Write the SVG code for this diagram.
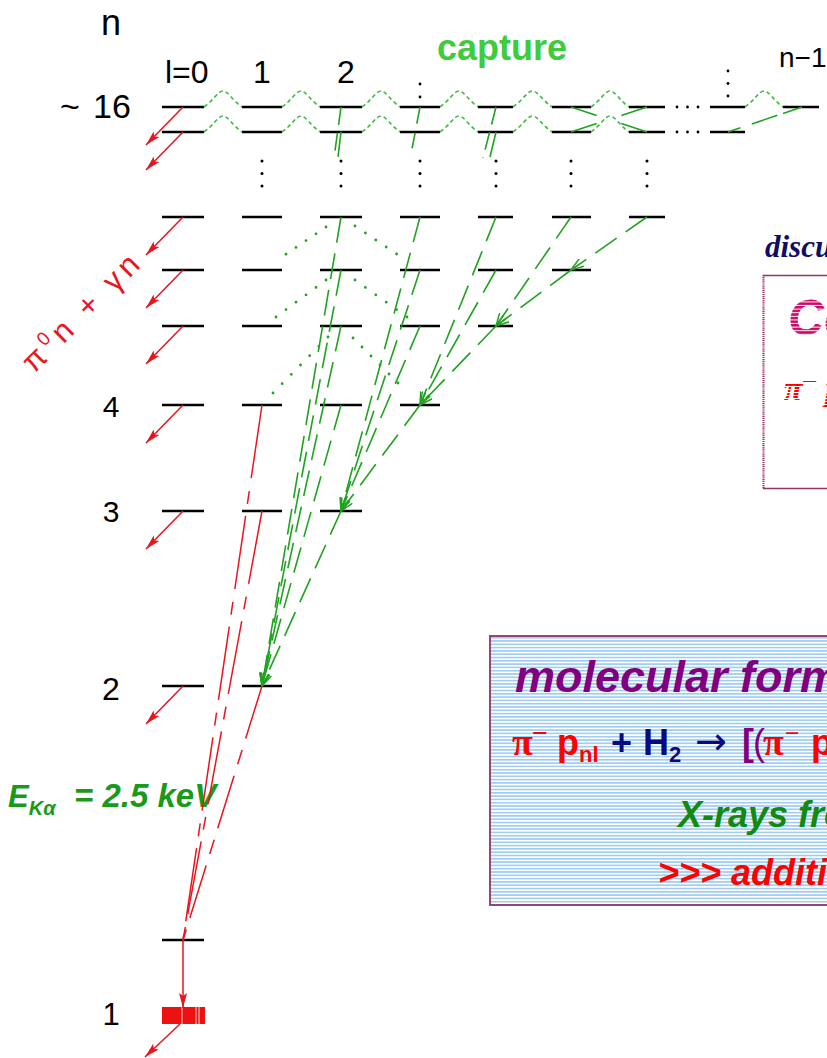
<svg xmlns="http://www.w3.org/2000/svg" width="827" height="1058" viewBox="0 0 827 1058">
<defs>
<style>
.lvl{stroke:#000;stroke-width:2.6;fill:none}
.dot{fill:#000}
.wave{stroke:#3cbc3c;stroke-width:1.6;fill:none;stroke-dasharray:4 3}
.gl{stroke:#1fa21f;stroke-width:1.6;fill:none;stroke-dasharray:26 11}
.gdot{stroke:#1fa21f;stroke-width:2.8;stroke-linecap:round;fill:none}
.rl{stroke:#e8141e;stroke-width:1.5;fill:none}
.rdash{stroke-dasharray:74 13 13 12}
.lab{font-family:"Liberation Sans",Arial,sans-serif}
.bi{font-family:"Liberation Sans",Arial,sans-serif;font-weight:bold;font-style:italic}
.b{font-family:"Liberation Sans",Arial,sans-serif;font-weight:bold}
.ser{font-family:"Liberation Serif","Times New Roman",serif;font-weight:bold}
</style>
<marker id="ahG" viewBox="0 0 14 10" refX="13" refY="5" markerWidth="14" markerHeight="10" markerUnits="userSpaceOnUse" orient="auto"><path d="M0,0.5 L13,5 L0,9.5" fill="none" stroke="#1fa21f" stroke-width="1.5"/></marker>
<marker id="ahR" viewBox="0 0 16 10" refX="15" refY="5" markerWidth="16" markerHeight="10" markerUnits="userSpaceOnUse" orient="auto"><path d="M0,1 L15,5 L0,9 L3,5 z" fill="#e8141e"/></marker>
<pattern id="blueStr" width="8" height="3.3" patternUnits="userSpaceOnUse"><rect width="8" height="3.3" fill="#fff"/><rect width="8" height="1.6" fill="#9dcbf3"/></pattern>
<pattern id="magStr" width="8" height="3.6" patternUnits="userSpaceOnUse"><rect width="8" height="2.6" fill="#cc0a6a"/></pattern>
<pattern id="redStr" width="8" height="3" patternUnits="userSpaceOnUse"><rect width="8" height="2" fill="#ff0000"/></pattern>
</defs>
<rect width="827" height="1058" fill="#fff"/>

<!-- labels -->
<g id="axis-labels" fill="#000">
<text class="lab" x="101" y="35" font-size="36">n</text>
<text class="lab" x="165" y="83" font-size="32">l=0</text>
<text class="lab" x="262" y="83" font-size="32" text-anchor="middle">1</text>
<text class="lab" x="346" y="83" font-size="32" text-anchor="middle">2</text>
<text class="lab" x="779" y="67" font-size="28">n−1</text>
<text class="lab" x="60" y="118" font-size="34">~<tspan x="93">16</tspan></text>
<text class="lab" x="111" y="417" font-size="30" text-anchor="middle">4</text>
<text class="lab" x="111" y="522" font-size="30" text-anchor="middle">3</text>
<text class="lab" x="111" y="700" font-size="32" text-anchor="middle">2</text>
<text class="lab" x="111" y="1025" font-size="31" text-anchor="middle">1</text>
</g>
<g id="side-labels">
<text class="b" x="437" y="60" font-size="36" fill="#3ccc3c">capture</text>
<text class="lab" transform="translate(34,374) rotate(-45)" font-size="31" fill="#e8141e" textLength="152" lengthAdjust="spacing">π<tspan font-size="19" dy="-12">0</tspan><tspan dy="12">n + γn</tspan></text>
<text class="bi" x="8" y="807" font-size="31" fill="#1a9a1a">E<tspan font-size="20" dy="8">Kα</tspan><tspan x="74" y="807" font-size="33">= 2.5 keV</tspan></text>
</g>

<!-- level nodes -->
<g id="level-n16a">
<path class="lvl" d="M162 107H204M242 107H282M320 107H362M400 107H440M478 107H513M552 107H591M629 107H665M710 107H745M783 107H819"/>
<circle class="dot" cx="677" cy="107" r="1.4"/><circle class="dot" cx="687.5" cy="107" r="1.4"/><circle class="dot" cx="698" cy="107" r="1.4"/>
<circle class="dot" cx="420" cy="84" r="1.4"/><circle class="dot" cx="420" cy="97" r="1.4"/>
<circle class="dot" cx="728" cy="71" r="1.4"/><circle class="dot" cx="728" cy="83.5" r="1.4"/><circle class="dot" cx="728" cy="96" r="1.4"/>
</g>
<g id="level-n16b">
<path class="lvl" d="M162 132H204M242 132H282M320 132H362M400 132H440M478 132H513M552 132H591M629 132H665M710 132H745"/>
<circle class="dot" cx="677" cy="132" r="1.4"/><circle class="dot" cx="687.5" cy="132" r="1.4"/><circle class="dot" cx="698" cy="132" r="1.4"/>
</g>
<g id="level-gap-dots">
<g fill="#000">
<circle cx="262" cy="161" r="1.5"/><circle cx="262" cy="173.5" r="1.5"/><circle cx="262" cy="186" r="1.5"/>
<circle cx="341" cy="161" r="1.5"/><circle cx="341" cy="173.5" r="1.5"/><circle cx="341" cy="186" r="1.5"/>
<circle cx="420" cy="161" r="1.5"/><circle cx="420" cy="173.5" r="1.5"/><circle cx="420" cy="186" r="1.5"/>
<circle cx="496" cy="161" r="1.5"/><circle cx="496" cy="173.5" r="1.5"/><circle cx="496" cy="186" r="1.5"/>
<circle cx="571" cy="161" r="1.5"/><circle cx="571" cy="173.5" r="1.5"/><circle cx="571" cy="186" r="1.5"/>
<circle cx="647" cy="161" r="1.5"/><circle cx="647" cy="173.5" r="1.5"/><circle cx="647" cy="186" r="1.5"/>
</g>
</g>
<g id="level-n7"><path class="lvl" d="M162 217H204M242 217H282M320 217H362M400 217H440M478 217H513M552 217H591M629 217H665"/></g>
<g id="level-n6"><path class="lvl" d="M162 270H204M242 270H282M320 270H362M400 270H440M478 270H513M552 270H591"/></g>
<g id="level-n5"><path class="lvl" d="M162 326H204M242 326H282M320 326H362M400 326H440M478 326H513"/></g>
<g id="level-n4"><path class="lvl" d="M162 405H204M242 405H282M320 405H362M400 405H440"/></g>
<g id="level-n3"><path class="lvl" d="M162 511H204M242 511H282M320 511H362"/></g>
<g id="level-n2"><path class="lvl" d="M162 686H204M242 686H282"/></g>
<g id="level-n1-em"><path class="lvl" d="M162 940H204"/></g>
<g id="level-n1">
<rect x="162" y="1007" width="43" height="17" fill="#ee1111"/>
<path d="M182 1007V1024M196 1007V1024M199 1007V1024" stroke="#fff" stroke-width="0.8"/>
</g>

<!-- connectors -->
<g id="connectors">
<g class="wave-group">
<path class="wave" d="M204 107C214 100 218 91 223 91C228 91 232 100 242 107"/>
<path class="wave" d="M282 107C292 100 296 91 301 91C306 91 310 100 320 107"/>
<path class="wave" d="M362 107C372 100 376 91 381 91C386 91 390 100 400 107"/>
<path class="wave" d="M440 107C450 100 454 91 459 91C464 91 468 100 478 107"/>
<path class="wave" d="M513 107C523 100 527.5 91 532.5 91C537.5 91 542 100 552 107"/>
<path class="wave" d="M591 107C601 100 605 91 610 91C615 91 619 100 629 107"/>
<path class="wave" d="M745 107C755 100 759 91 764 91C769 91 773 100 783 107"/>
<path class="wave" d="M204 132C214 125 218 116 223 116C228 116 232 125 242 132"/>
<path class="wave" d="M282 132C292 125 296 116 301 116C306 116 310 125 320 132"/>
<path class="wave" d="M362 132C372 125 376 116 381 116C386 116 390 125 400 132"/>
<path class="wave" d="M440 132C450 125 454 116 459 116C464 116 468 125 478 132"/>
<path class="wave" d="M513 132C523 125 527.5 116 532.5 116C537.5 116 542 125 552 132"/>
<path class="wave" d="M591 132C601 125 605 116 610 116C615 116 619 125 629 132"/>
</g>
<line class="gl" x1="571" y1="107" x2="647" y2="132" style="stroke-dasharray:27 26"/>
<line class="gl" x1="571" y1="132" x2="647" y2="107" style="stroke-dasharray:27 26"/>
<line class="gl" x1="802" y1="107" x2="728" y2="132" style="stroke-dasharray:20 6 27 12 20"/>
<line class="gl" x1="341" y1="107" x2="334" y2="158" style="stroke-dasharray:18 8"/>
<line class="gl" x1="341" y1="132" x2="338" y2="157" style="stroke-dasharray:25 4"/>
<line class="gl" x1="420" y1="107" x2="412" y2="149" style="stroke-dasharray:17 9 16"/>
<line class="gl" x1="496" y1="107" x2="483" y2="158" style="stroke-dasharray:18 8"/>
<line class="gl" x1="496" y1="132" x2="490" y2="157"/>
<line class="gdot" x1="326" y1="227" x2="276" y2="261" style="stroke-dasharray:0 12.1"/>
<line class="gdot" x1="355" y1="226" x2="407" y2="261" style="stroke-dasharray:0 12.54"/>
<line class="gdot" x1="326" y1="280" x2="276" y2="317" style="stroke-dasharray:0 12.44"/>
<line class="gdot" x1="355" y1="280" x2="407" y2="317" style="stroke-dasharray:0 12.76"/>
<line class="gdot" x1="328" y1="337" x2="273" y2="393" style="stroke-dasharray:0 13.08"/>
<line class="gdot" x1="353" y1="338" x2="407" y2="392" style="stroke-dasharray:0 12.73"/>
<line class="gl" x1="341" y1="217" x2="262" y2="686" marker-end="url(#ahG)"/>
<line class="gl" x1="341" y1="270" x2="262" y2="686" marker-end="url(#ahG)"/>
<line class="gl" x1="341" y1="326" x2="262" y2="686" marker-end="url(#ahG)"/>
<line class="gl" x1="341" y1="405" x2="262" y2="686" marker-end="url(#ahG)"/>
<line class="gl" x1="341" y1="511" x2="262" y2="686" marker-end="url(#ahG)"/>
<line class="gl" x1="420" y1="217" x2="341" y2="511" marker-end="url(#ahG)"/>
<line class="gl" x1="420" y1="270" x2="341" y2="511" marker-end="url(#ahG)"/>
<line class="gl" x1="420" y1="326" x2="341" y2="511" marker-end="url(#ahG)"/>
<line class="gl" x1="420" y1="405" x2="341" y2="511" marker-end="url(#ahG)"/>
<line class="gl" x1="496" y1="217" x2="420" y2="405" marker-end="url(#ahG)"/>
<line class="gl" x1="496" y1="270" x2="420" y2="405" marker-end="url(#ahG)"/>
<line class="gl" x1="496" y1="326" x2="420" y2="405" marker-end="url(#ahG)"/>
<line class="gl" x1="571" y1="217" x2="496" y2="326" marker-end="url(#ahG)"/>
<line class="gl" x1="571" y1="270" x2="496" y2="326" marker-end="url(#ahG)"/>
<line class="gl" x1="647" y1="217" x2="571" y2="270" marker-end="url(#ahG)"/>
<line class="rl rdash" x1="262" y1="405" x2="183" y2="940"/>
<line class="rl rdash" x1="262" y1="511" x2="183" y2="940"/>
<line class="rl rdash" x1="262" y1="686" x2="183" y2="940" style="stroke-dasharray:55 12 15 12"/>
<line class="rl" x1="183" y1="940" x2="183" y2="1008" marker-end="url(#ahR)"/>
<line class="rl" x1="183" y1="107" x2="146" y2="145" marker-end="url(#ahR)"/>
<line class="rl" x1="183" y1="132" x2="146" y2="170" marker-end="url(#ahR)"/>
<line class="rl" x1="183" y1="217" x2="146" y2="255" marker-end="url(#ahR)"/>
<line class="rl" x1="183" y1="270" x2="146" y2="308" marker-end="url(#ahR)"/>
<line class="rl" x1="183" y1="326" x2="146" y2="364" marker-end="url(#ahR)"/>
<line class="rl" x1="183" y1="405" x2="146" y2="443" marker-end="url(#ahR)"/>
<line class="rl" x1="183" y1="511" x2="146" y2="549" marker-end="url(#ahR)"/>
<line class="rl" x1="183" y1="686" x2="146" y2="724" marker-end="url(#ahR)"/>
<line class="rl" x1="180" y1="1024" x2="145" y2="1057" marker-end="url(#ahR)"/>
</g>

<!-- discussion box -->
<g id="box-discussion">
<text class="ser" x="765" y="257" font-size="31" font-style="italic" fill="#0d0d66">discu</text>
<rect x="763" y="275" width="80" height="214" fill="#fff"/>
<path d="M763 275.5H840M763 488.5H840" stroke="#993366" stroke-width="1.5"/>
<line x1="763.5" y1="275" x2="763.5" y2="489" stroke="#993366" stroke-width="2.2" stroke-dasharray="1.2 0.9"/>
<text class="bi" x="788" y="335" font-size="50" fill="url(#magStr)">Co</text>
<text class="ser" x="784" y="400" font-size="34" font-style="italic" fill="url(#redStr)">π<tspan x="801" y="390" font-size="28">−</tspan><tspan x="825" y="400">p</tspan></text>
</g>

<!-- molecular box -->
<g id="box-molecular">
<rect x="490" y="636" width="345" height="269" fill="url(#blueStr)" stroke="#994477" stroke-width="2"/>
<text class="bi" x="515" y="692" font-size="45" fill="#800080">molecular form</text>
<text class="ser" x="512" y="755" font-size="38" fill="#ff0000">π</text>
<text class="ser" x="532" y="742" font-size="28" fill="#ff0000">−</text>
<text class="b" x="557" y="755" font-size="36" fill="#ff0000">p<tspan font-size="22" dy="7">nl</tspan></text>
<text class="b" x="611" y="755" font-size="36" fill="#0a0a80">+</text>
<text class="b" x="643" y="755" font-size="36" fill="#0a0a80">H<tspan font-size="22" dy="7">2</tspan></text>
<text x="695" y="754" font-size="38" fill="#0a0a80" font-family="DejaVu Sans, sans-serif">→</text>
<text class="b" x="742" y="755" font-size="36" fill="#800080">[</text>
<text x="753" y="755" font-size="36" fill="#800080" font-family="Liberation Sans, sans-serif">(</text>
<text class="ser" x="763" y="755" font-size="38" fill="#ff0000">π</text>
<text class="ser" x="785" y="742" font-size="26" fill="#ff0000">−</text>
<text class="b" x="811" y="755" font-size="36" fill="#ff0000">p</text>
<text class="bi" x="678" y="827" font-size="36" fill="#108a10">X-rays from</text>
<text class="bi" x="658" y="885" font-size="36" fill="#ff0000">&gt;&gt;&gt; additional</text>
</g>
</svg>
